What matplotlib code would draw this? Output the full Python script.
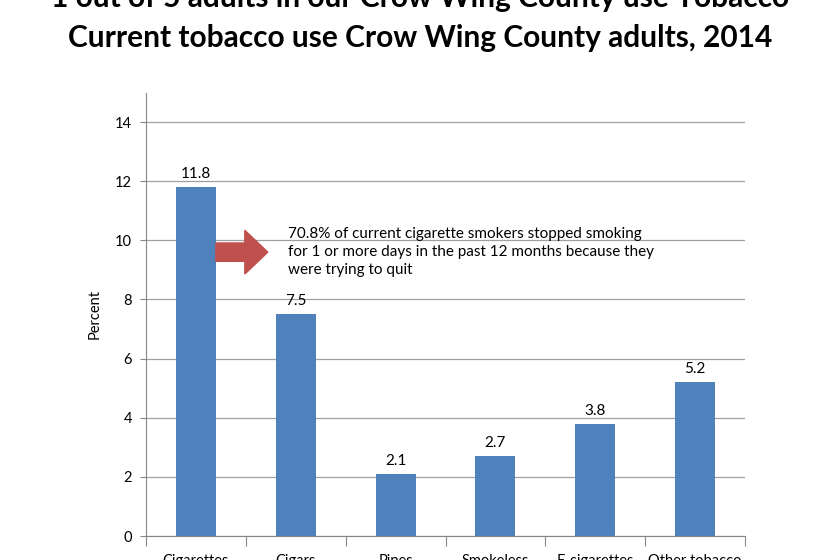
import matplotlib
matplotlib.use('Agg')  # no display

import matplotlib.pyplot as plt
import numpy as np
from matplotlib.patches import FancyArrow

plt.rcParams['font.family'] = ['Lato', 'DejaVu Sans']

categories = ['Cigarettes', 'Cigars', 'Pipes', 'Smokeless', 'E-cigarettes', 'Other tobacco']
percent = [11.8, 7.5, 2.1, 2.7, 3.8, 5.2]
yticks = [0, 2, 4, 6, 8, 10, 12, 14]

title_top = '1 out of 5 adults in our Crow Wing County use Tobacco'
title_main = 'Current tobacco use Crow Wing County adults, 2014'
note = ('70.8% of current cigarette smokers stopped smoking\n'
        'for 1 or more days in the past 12 months because they\n'
        'were trying to quit')

DPI = 100
fig = plt.figure(figsize=(8.4, 5.6), dpi=DPI)
ax = fig.add_axes([146 / 840, 1 - 536 / 560, (745 - 146) / 840, (536 - 92.5) / 560])

x = np.arange(len(categories))
bars = ax.bar(x, percent, width=0.4, color='#4F81BD', zorder=3)
for xi, v in zip(x, percent):
    ax.text(xi, v + 0.2, '%.1f' % v, ha='center', va='bottom', fontsize=11)

ax.set_xlim(-0.5, len(categories) - 0.5)
ax.set_ylim(0, 15)
ax.set_yticks(yticks)
ax.tick_params(axis='y', length=4, color='#868686', labelsize=10.5, pad=6)
ax.yaxis.grid(True, color='#A0A0A0', linewidth=0.9, zorder=0)
ax.set_ylabel('Percent', fontsize=10.5, labelpad=10)

# category ticks between bars, labels centred under bars
ax.set_xticks(np.arange(len(categories) + 1) - 0.5)
ax.set_xticklabels([])
ax.set_xticks(x, minor=True)
ax.set_xticklabels(categories, minor=True, fontsize=10.5)
ax.tick_params(axis='x', which='major', length=7, color='#868686')
ax.tick_params(axis='x', which='minor', length=0, pad=13)

for s in ['top', 'right']:
    ax.spines[s].set_visible(False)
for s in ['left', 'bottom']:
    ax.spines[s].set_color('#868686')

# red block arrow pointing at the note
arrow = FancyArrow(0.2, 9.6, 0.52, 0, width=0.62, head_width=1.48,
                   head_length=0.23, length_includes_head=True,
                   color='#C0504D', zorder=4)
ax.add_patch(arrow)
ax.text(0.92, 10.45, note, ha='left', va='top', fontsize=11, linespacing=1.35)

fig.text(0.5, 1.003, title_top, ha='center', va='center', fontsize=21.5, fontweight='bold')
fig.text(0.5, 1 - 38 / 560, title_main, ha='center', va='center', fontsize=21.5, fontweight='bold')

plt.savefig('out.png', dpi=DPI)
